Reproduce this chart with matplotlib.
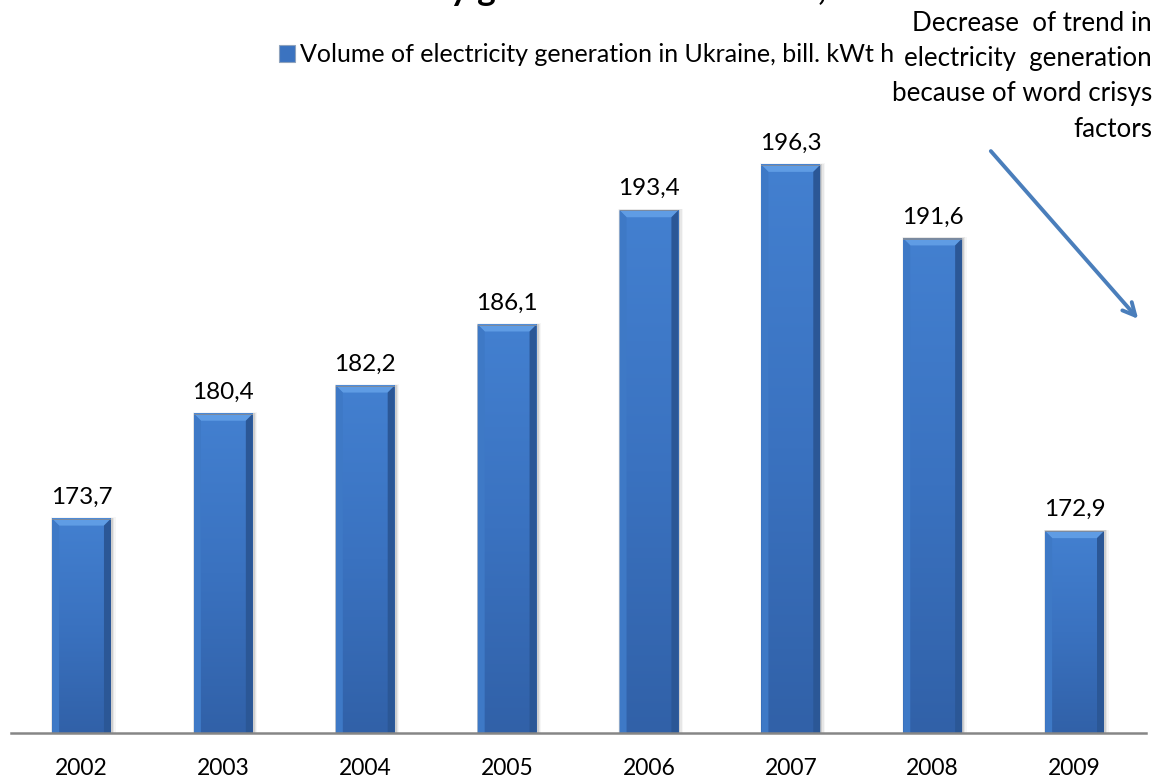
import numpy as np
import matplotlib
matplotlib.use("Agg")
import matplotlib.pyplot as plt
from matplotlib.colors import LinearSegmentedColormap
from matplotlib.patches import Polygon, Rectangle

plt.rcParams['font.family'] = ['Lato', 'DejaVu Sans']

years = ["2002", "2003", "2004", "2005", "2006", "2007", "2008", "2009"]
generation = [173.7, 180.4, 182.2, 186.1, 193.4, 196.3, 191.6, 172.9]
value_labels = ["173,7", "180,4", "182,2", "186,1", "193,4", "196,3", "191,6", "172,9"]

title_text = "Volume of electricity generation in Ukraine, 2002-2009"
series_name = "Volume of electricity generation in Ukraine, bill. kWt h"
note_text = "Decrease  of trend in\nelectricity  generation\nbecause of word crisys\nfactors"

W, H = 1157, 778
fig = plt.figure(figsize=(W / 100, H / 100), dpi=100)
ax = fig.add_axes([10.6 / W, (H - 733) / H, (1145.5 - 10.6) / W, (733 - 60) / H])

ymin, ymax = 160, 203.0
ax.set_xlim(-0.5, len(years) - 0.5)
ax.set_ylim(ymin, ymax)

bar_w = 0.415
px_x = 1 / 141.86        # one pixel in data x units
px_y = 1 / 15.64         # one pixel in data y units
bx, by = 7 * px_x, 7 * px_y

grad = LinearSegmentedColormap.from_list("bar", ["#3161a8", "#3a72c0", "#4380d0"])
gimg = np.linspace(0, 1, 256).reshape(-1, 1)

x = np.arange(len(years))
for xi, v in zip(x, generation):
    x0, x1 = xi - bar_w / 2, xi + bar_w / 2
    # soft shadow around the bar
    for k, a in enumerate([0.10, 0.06, 0.035]):
        d = k + 1.5
        ax.add_patch(Rectangle((x0 - 0.3 * d * px_x, ymin), bar_w + 1.6 * d * px_x,
                               v - ymin + 0.4 * d * px_y, facecolor="#000000", alpha=a,
                               edgecolor="none", zorder=1))
    ax.imshow(gimg, extent=(x0, x1, ymin, v), origin="lower", cmap=grad,
              aspect="auto", zorder=2, interpolation="bilinear")
    # bevel faces
    ax.add_patch(Polygon([(x0, v), (x1, v), (x1 - bx, v - by), (x0 + bx, v - by)],
                         closed=True, facecolor="#5f9ce4", edgecolor="none", zorder=3))
    ax.add_patch(Polygon([(x0, v), (x0 + bx, v - by), (x0 + bx, ymin), (x0, ymin)],
                         closed=True, facecolor="#3e79c6", edgecolor="none", zorder=3))
    ax.add_patch(Polygon([(x1, v), (x1 - bx, v - by), (x1 - bx, ymin), (x1, ymin)],
                         closed=True, facecolor="#2b5796", edgecolor="none", zorder=3))
    ax.add_patch(Rectangle((x0, v - 1.2 * px_y), bar_w, 1.2 * px_y, facecolor="#7a8aa0",
                           edgecolor="none", zorder=4))

for xi, v, lab in zip(x, generation, value_labels):
    ax.annotate(lab, (xi, v), xytext=(0, 10.8), textcoords="offset points",
                ha="center", va="baseline", fontsize=17.5, color="#000000")

ax.set_xticks(x)
ax.set_xticklabels(years, fontsize=16.5)
ax.tick_params(axis="x", length=0, pad=18)
ax.set_yticks([])
for s in ["top", "right", "left"]:
    ax.spines[s].set_visible(False)
ax.spines["bottom"].set_color("#868686")
ax.spines["bottom"].set_linewidth(1.8)
ax.spines["bottom"].set_zorder(5)

# legend
handle = Rectangle((0, 0), 1, 1, facecolor="#3b73c0", edgecolor="#8fa3bd", linewidth=0.8)
fig.legend([handle], [series_name], loc="center left",
           bbox_to_anchor=(279 / W, 1 - 55 / H), frameon=False, fontsize=18,
           handlelength=0.64, handleheight=0.64, handletextpad=0.18,
           borderpad=0, borderaxespad=0)

# title, partly above the top edge
fig.text(576 / W, 1 - 0.2 / H, title_text, ha="center", va="baseline",
         fontsize=25.5, fontweight="bold")

# annotation with arrow
fig.text(1152 / W, 1 - 11 / H, note_text, ha="right", va="top", fontsize=18.6,
         linespacing=1.51)
ax.annotate("", xy=(1140 / W, 1 - 321 / H), xytext=(989 / W, 1 - 149 / H),
            xycoords="figure fraction", textcoords="figure fraction",
            arrowprops=dict(arrowstyle="->,head_length=0.9,head_width=0.45",
                            color="#4a7ebb", lw=2.8), annotation_clip=False)

fig.savefig("out.png", dpi=100)
